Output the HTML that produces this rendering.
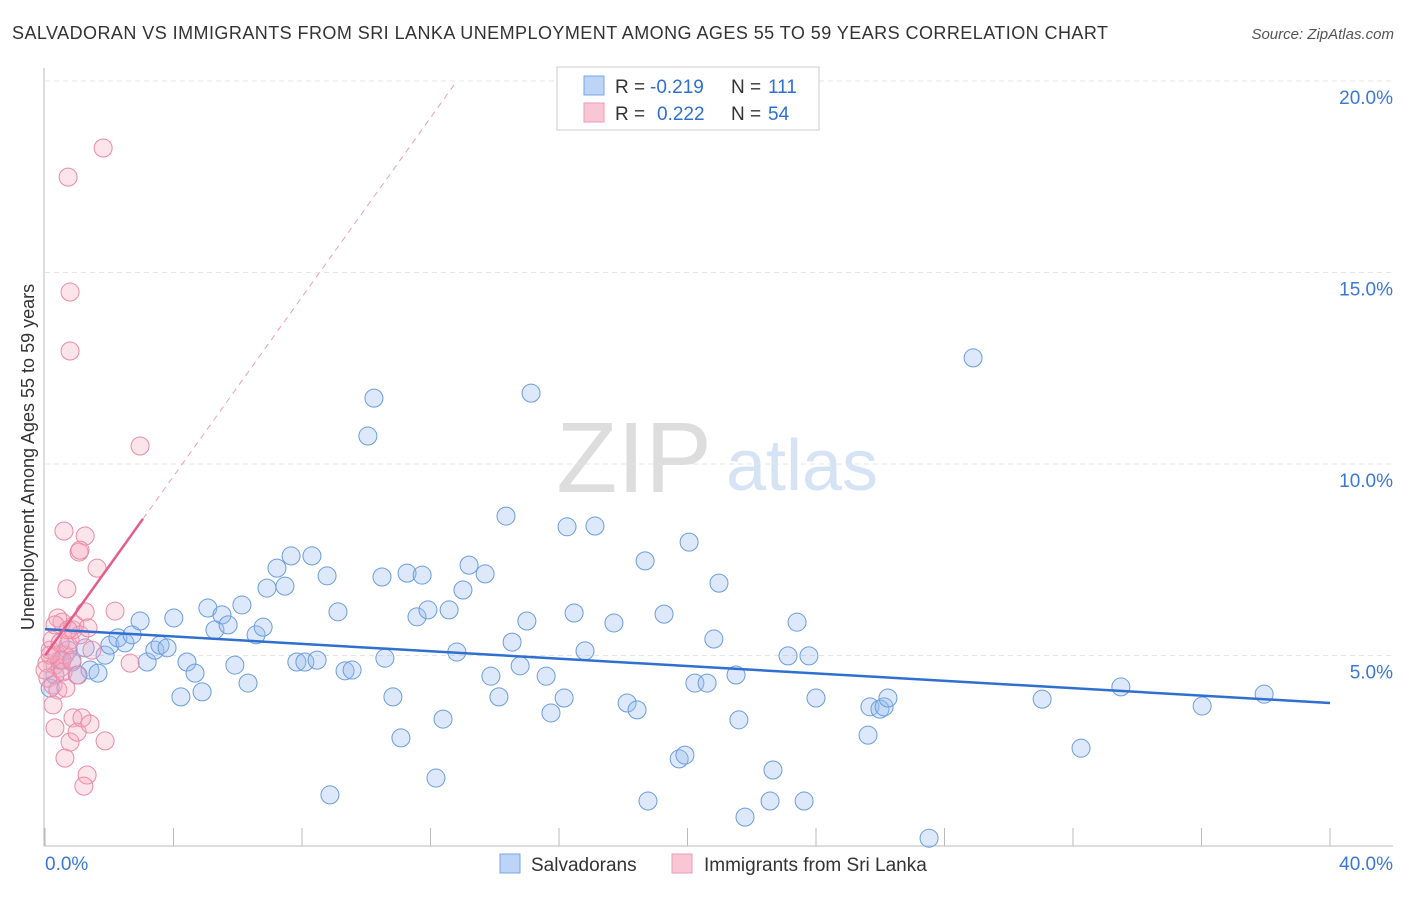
<!DOCTYPE html>
<html><head><meta charset="utf-8"><style>
body{margin:0;background:#fff;font-family:"Liberation Sans",sans-serif}
svg text{font-family:"Liberation Sans",sans-serif}
</style></head><body>
<svg id="c" width="1406" height="892" xmlns="http://www.w3.org/2000/svg">
<text x="12" y="39" font-size="18" fill="#333" textLength="1096">SALVADORAN VS IMMIGRANTS FROM SRI LANKA UNEMPLOYMENT AMONG AGES 55 TO 59 YEARS CORRELATION CHART</text>
<text x="1394" y="39" font-size="15" fill="#555" font-style="italic" text-anchor="end">Source: ZipAtlas.com</text>
<text transform="translate(34,457) rotate(-90)" font-size="18" fill="#333" text-anchor="middle">Unemployment Among Ages 55 to 59 years</text>
<g><text x="634" y="492" font-size="100" fill="#ddd" font-family="Liberation Serif" text-anchor="middle">ZIP</text><text x="802" y="490" font-size="72" fill="#d5e3f5" text-anchor="middle">atlas</text></g>
<g id="grid"></g><g id="axes"></g><g id="pts"></g><g id="lines"></g>
<g>
<rect x="557" y="67" width="262" height="63" fill="#fff" stroke="#ccc"/>
<rect x="584" y="76" width="20" height="19" fill="#bcd4f5" stroke="#7aa6e6"/>
<rect x="584" y="103" width="20" height="19" fill="#f9c6d5" stroke="#ee9ab5"/>
<text x="615" y="93" font-size="19" fill="#333">R =</text>
<text x="650" y="93" font-size="19" fill="#2f6fd0">-0.219</text>
<text x="731" y="93" font-size="19" fill="#333">N =</text>
<text x="768" y="93" font-size="19" fill="#2f6fd0">111</text>
<text x="615" y="120" font-size="19" fill="#333">R =</text>
<text x="657" y="120" font-size="19" fill="#2f6fd0">0.222</text>
<text x="731" y="120" font-size="19" fill="#333">N =</text>
<text x="768" y="120" font-size="19" fill="#2f6fd0">54</text>
</g>
<g>
<rect x="500" y="854" width="20" height="19" fill="#bcd4f5" stroke="#7aa6e6"/>
<text x="531" y="871" font-size="19" fill="#333">Salvadorans</text>
<rect x="672" y="854" width="20" height="19" fill="#f9c6d5" stroke="#ee9ab5"/>
<text x="704" y="871" font-size="19" fill="#333">Immigrants from Sri Lanka</text>
</g>
</svg>
<script>
const blueX=[0.16,0.31,0.47,0.72,0.84,1.03,1.25,1.40,1.65,1.87,2.02,2.27,2.49,2.71,2.96,3.18,3.42,3.58,3.80,4.01,4.23,4.42,4.67,4.89,5.07,5.29,5.51,5.70,5.91,6.13,6.32,6.57,6.79,6.91,7.22,7.47,7.66,7.84,8.09,8.31,8.47,8.78,9.12,9.34,9.56,10.05,10.24,10.58,10.83,11.08,10.49,11.27,11.58,11.74,11.92,12.17,12.39,12.58,12.82,13.01,13.20,13.70,13.88,14.13,14.35,14.54,14.79,15.00,15.13,15.60,15.75,16.16,16.25,16.47,16.81,17.12,17.71,18.12,18.43,18.68,18.77,19.27,19.74,19.92,20.05,20.23,20.61,20.82,20.98,21.51,21.60,21.79,22.57,22.66,23.13,23.41,23.63,23.78,24.00,25.62,25.68,25.99,26.12,26.24,27.52,28.89,31.04,32.25,33.49,36.02,37.95,8.87];
const blueY=[4.15,4.49,4.88,5.14,4.83,4.49,5.20,4.62,4.54,5.01,5.27,5.46,5.33,5.54,5.90,4.83,5.14,5.27,5.20,5.98,3.92,4.83,4.54,4.05,6.24,5.67,6.06,5.80,4.75,6.32,4.28,5.54,5.74,6.76,7.28,6.81,7.60,4.83,4.83,7.60,4.88,7.08,6.14,4.60,4.62,10.73,11.72,4.93,3.92,2.85,7.05,7.15,6.01,7.10,6.19,1.80,3.34,6.19,5.09,6.71,7.36,7.13,4.46,3.92,8.64,5.35,4.73,5.90,11.85,4.46,3.50,3.89,8.36,6.11,5.12,8.38,5.85,3.76,3.58,7.47,1.20,6.08,2.30,2.40,7.96,4.28,4.28,5.43,6.89,4.49,3.32,0.78,1.20,2.01,4.99,5.87,1.20,4.99,3.89,2.92,3.66,3.60,3.66,3.89,0.23,12.77,3.86,2.58,4.18,3.68,3.99,1.36];
const pinkX=[0.06,0.16,0.22,0.31,0.37,0.47,0.09,0.25,0.40,0.56,0.62,0.72,0.78,0.87,0.93,1.09,1.25,1.34,1.46,0.53,0.40,0.31,1.62,1.25,1.06,1.09,0.59,0.68,2.96,0.78,0.78,0.72,1.81,2.18,2.65,0.25,0.31,0.62,0.78,0.87,1.00,1.15,1.31,1.21,1.40,1.87,0.65,0.53,0.16,0.00,0.84,1.00,0.47,0.72];
const pinkY=[4.80,5.14,5.40,4.75,5.01,4.67,4.41,4.23,4.10,4.57,5.01,5.27,5.40,5.67,5.80,5.54,6.14,5.72,5.14,5.87,5.98,5.80,7.28,8.12,7.70,7.75,8.25,6.74,10.47,12.95,14.49,17.49,18.25,6.16,4.80,3.71,3.11,2.32,2.74,3.37,3.00,3.37,1.88,1.59,3.21,2.77,4.15,4.88,5.01,4.62,4.88,4.49,5.33,5.67];
const yTicks=[5,10,15,20];
const yTickLabels=["5.0%","10.0%","15.0%","20.0%"];
const xTicks=[0,4,8,12,16,20,24,28,32,36,40];
const blueTrend=[5.69,3.76];
const pinkTrend=[5.0,1.17];
const pinkSolidEnd=3.05, pinkDashEnd=12.8;

const X=v=>45+v/40*1285, Y=v=>847-v*38.3;
const NS="http://www.w3.org/2000/svg";
function mk(parent,tag,attrs){const e=document.createElementNS(NS,tag);for(const k in attrs)e.setAttribute(k,attrs[k]);document.getElementById(parent).appendChild(e);return e;}
yTicks.forEach((t,i)=>{
  const g=mk('grid','line',{x1:45,x2:1393,y1:Y(t),y2:Y(t),stroke:'#e4e4e4','stroke-dasharray':'5,4'});
  
  
  const l=mk('grid','text',{x:1393,y:Y(t)+23,'font-size':19,fill:'#3a78d4','text-anchor':'end'});
  l.textContent=yTickLabels[i];
  
  
});
const ax=mk('axes','line',{x1:44,x2:44,y1:68,y2:846,stroke:'#bbb'});


const bx=mk('axes','line',{x1:44,x2:1393,y1:846,y2:846,stroke:'#bbb'});


xTicks.forEach(t=>{
  const k=mk('axes','line',{x1:X(t),x2:X(t),y1:828,y2:846,stroke:'#bbb'});
  
  
});
const x0=mk('axes','text',{x:45,y:870,'font-size':19,fill:'#3a78d4'});x0.textContent='0.0%';


const x1=mk('axes','text',{x:1393,y:870,'font-size':19,fill:'#3a78d4','text-anchor':'end'});x1.textContent='40.0%';


blueX.forEach((v,i)=>{
  const c=mk('pts','circle',{cx:X(v),cy:Y(blueY[i]),r:9,fill:'rgba(150,188,240,0.32)',stroke:'#6a9ce0','stroke-width':1});
  
  
});
pinkX.forEach((v,i)=>{
  const c=mk('pts','circle',{cx:X(v),cy:Y(pinkY[i]),r:9,fill:'rgba(245,165,190,0.3)',stroke:'#e98aa8','stroke-width':1});
  
  
});
const bl=mk('lines','line',{x1:X(0),y1:Y(blueTrend[0]),x2:X(40),y2:Y(blueTrend[1]),stroke:'#2f6fd0','stroke-width':2.5});


const pl=mk('lines','line',{x1:X(0),y1:Y(pinkTrend[0]),x2:X(pinkSolidEnd),y2:Y(pinkTrend[0]+pinkTrend[1]*pinkSolidEnd),stroke:'#e35c8a','stroke-width':2.5});


const pd=mk('lines','line',{x1:X(pinkSolidEnd),y1:Y(pinkTrend[0]+pinkTrend[1]*pinkSolidEnd),x2:X(pinkDashEnd),y2:Y(pinkTrend[0]+pinkTrend[1]*pinkDashEnd),stroke:'#e9a0b8','stroke-width':1,'stroke-dasharray':'6,5'});


</script>
</body></html>
